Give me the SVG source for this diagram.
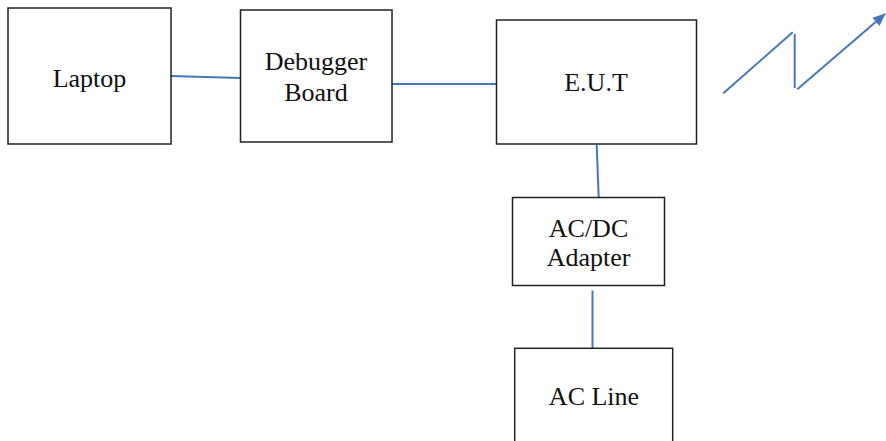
<svg xmlns="http://www.w3.org/2000/svg" width="886" height="441" viewBox="0 0 886 441">
<style>
.box{fill:#fff;stroke:#222;stroke-width:1.5}
.lbl{font-family:"Liberation Serif","Times New Roman",serif;font-size:26px;fill:#111;text-anchor:middle}
.con{stroke:#4677bd;stroke-width:2;fill:none}
</style>
<defs>
<marker id="arr" markerWidth="14" markerHeight="14" refX="12" refY="6" orient="auto" markerUnits="userSpaceOnUse">
<path d="M0,0.5 L13,6 L0,11.5 Z" fill="#4677bd"/>
</marker>
</defs>
<rect width="886" height="441" fill="#fff"/>
<g id="connectors">
<line class="con" x1="171" y1="76" x2="240" y2="78"/>
<line class="con" x1="392" y1="84" x2="497" y2="84"/>
<line class="con" x1="596.7" y1="145" x2="598.7" y2="197"/>
<line class="con" x1="592.5" y1="290.5" x2="592.5" y2="348"/>
<line class="con" x1="723.3" y1="93.3" x2="792.7" y2="32.3"/>
<line class="con" x1="794.7" y1="34" x2="794.7" y2="88"/>
<line class="con" x1="797.3" y1="89.3" x2="885" y2="14" marker-end="url(#arr)"/>
</g>
<g id="laptop">
<rect class="box" x="8" y="8" width="163" height="136"/>
<text class="lbl" x="89.5" y="87">Laptop</text>
</g>
<g id="debugger">
<rect class="box" x="240.5" y="10" width="151.5" height="132"/>
<text class="lbl" x="316" y="70">Debugger</text>
<text class="lbl" x="316" y="100.5">Board</text>
</g>
<g id="eut">
<rect class="box" x="496.5" y="20" width="200" height="124"/>
<text class="lbl" x="596" y="90.5">E.U.T</text>
</g>
<g id="adapter">
<rect class="box" x="512.5" y="197.5" width="152" height="88"/>
<text class="lbl" x="588.5" y="236.5">AC/DC</text>
<text class="lbl" x="588.5" y="266">Adapter</text>
</g>
<g id="acline">
<rect class="box" x="514.7" y="348.3" width="158" height="110"/>
<text class="lbl" x="594" y="405">AC Line</text>
</g>
</svg>
